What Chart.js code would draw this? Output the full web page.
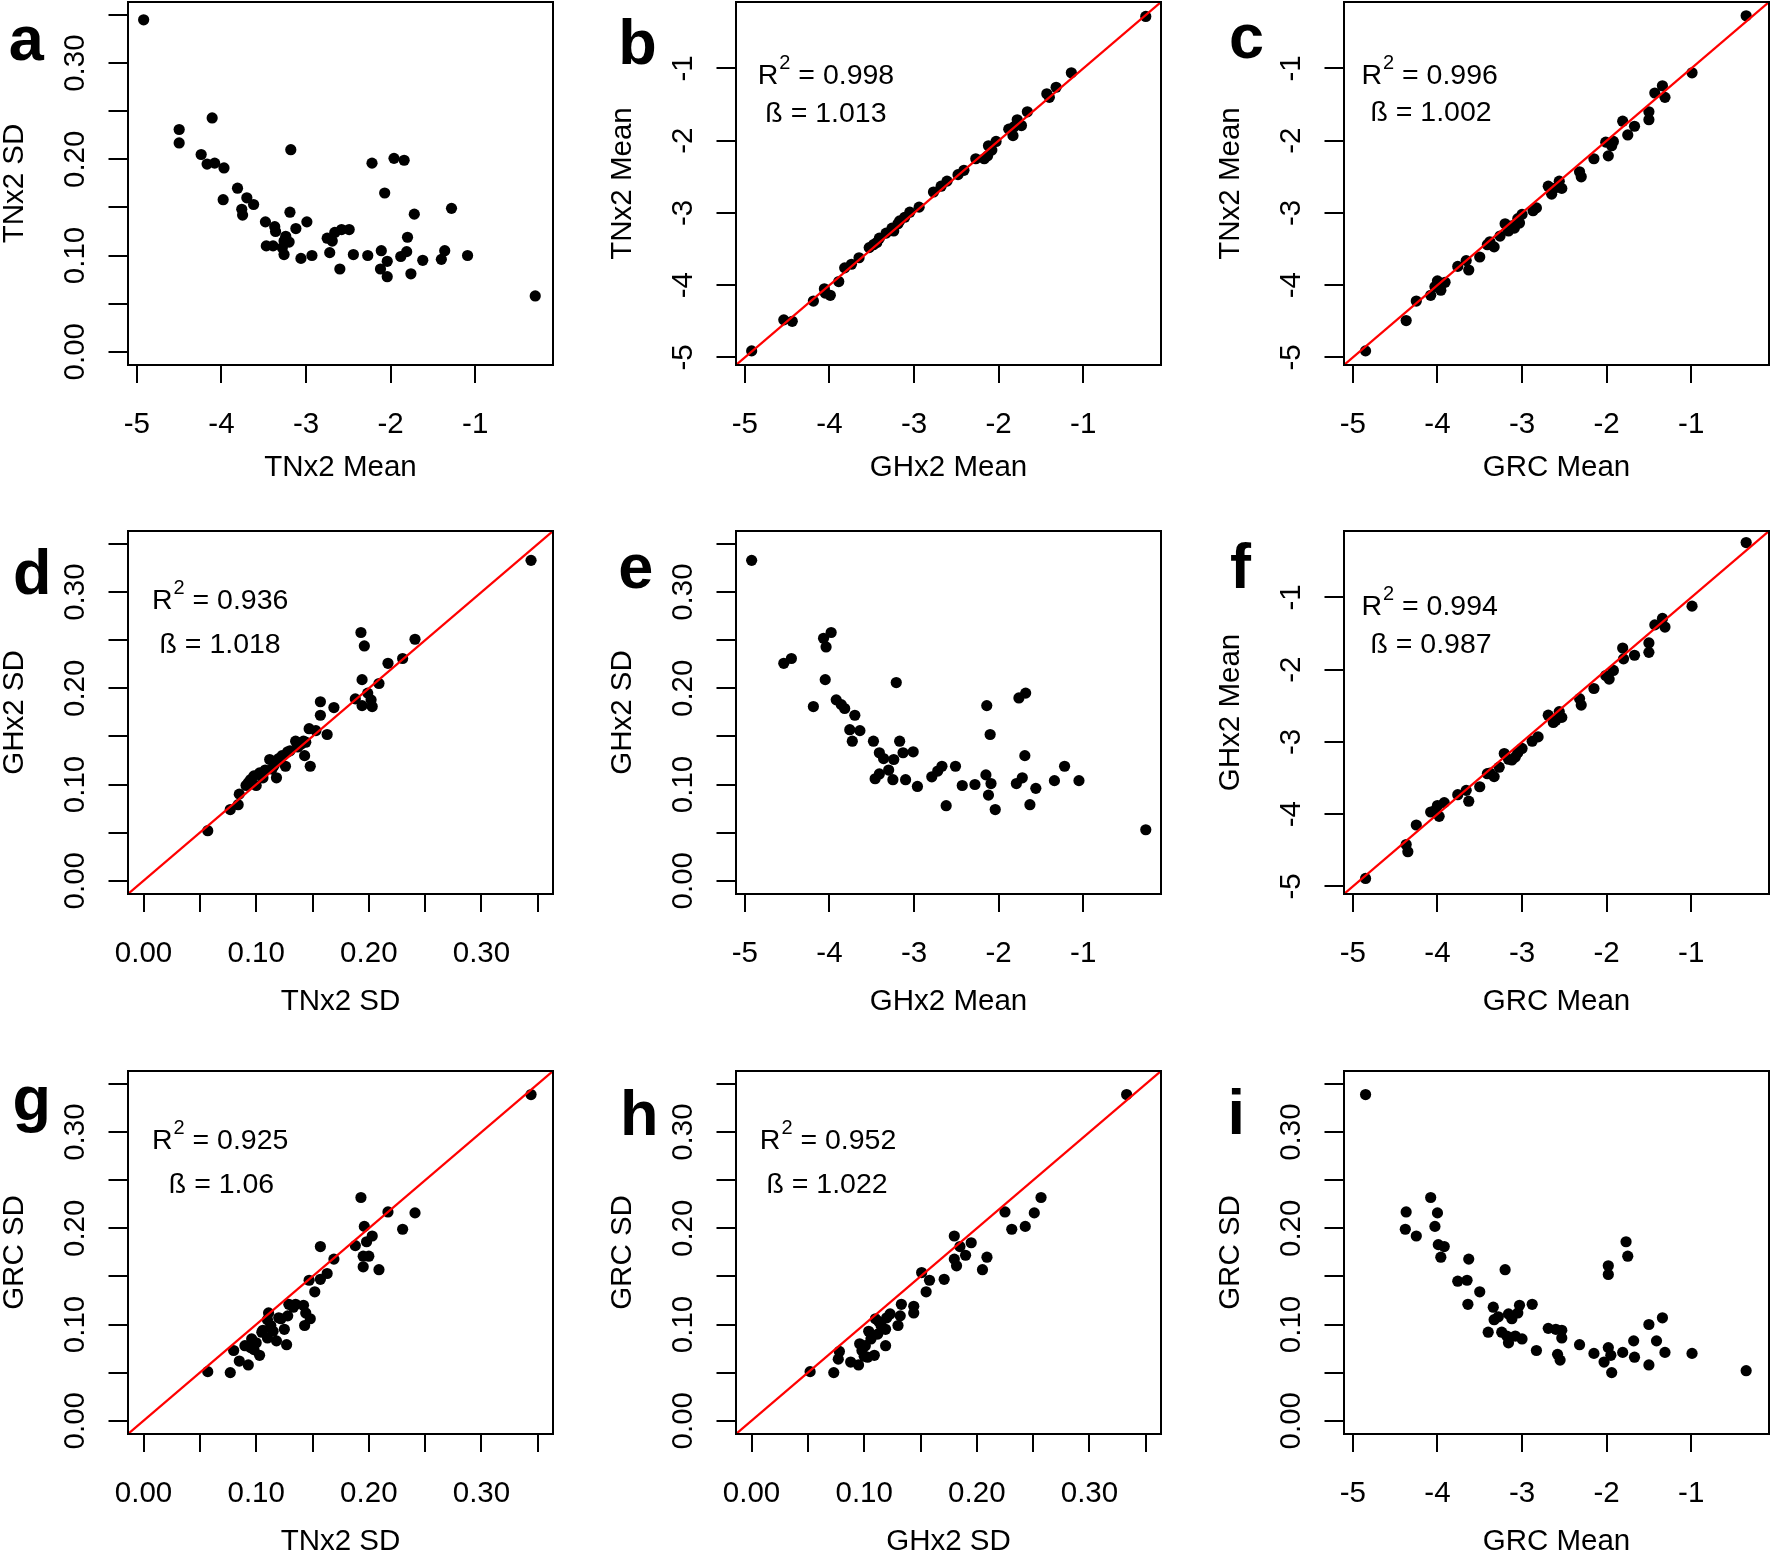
<!DOCTYPE html>
<html>
<head>
<meta charset="utf-8">
<title>TNx2 / GHx2 / GRC comparison</title>
<script src="https://cdn.jsdelivr.net/npm/chart.js@4.4.1/dist/chart.umd.min.js"></script>
<style>
  html, body { margin: 0; padding: 0; background: #fff; }
  body { width: 1770px; height: 1553px; overflow: hidden; position: relative; }
  #fig { position: absolute; left: 0; top: 0; width: 1770px; height: 1553px; }
  #fig canvas { position: absolute; }
</style>
</head>
<body>
<div id="fig"></div>
<script>
// ---- axis ticks ----
const meanTicks = [-5, -4, -3, -2, -1];
const meanTickLabels = ['-5', '-4', '-3', '-2', '-1'];
const sdTicks = [0, 0.05, 0.10, 0.15, 0.20, 0.25, 0.30, 0.35];
const sdTickLabels = ['0.00', '', '0.10', '', '0.20', '', '0.30', ''];
const meanRange = [-5.105, -0.08];
const sdRange = [-0.0138, 0.3635];

// ---- a: TNx2 mean vs TNx2 SD ----
const aX = [-4.92, -4.50, -4.50, -4.11, -4.24, -4.17, -4.08, -3.97, -3.98, -3.81, -3.70, -3.62, -3.76, -3.75, -3.48, -3.37, -3.36, -3.47, -3.39, -3.28, -3.24, -3.20, -3.26, -3.19, -3.18, -3.12, -2.99, -3.06, -2.93, -2.75, -2.66, -2.69, -2.72, -2.58, -2.49, -2.60, -2.44, -2.27, -2.22, -2.07, -2.11, -2.12, -2.04, -2.04, -1.96, -1.84, -1.88, -1.81, -1.80, -1.76, -1.72, -1.62, -1.40, -1.36, -1.28, -1.09, -0.29, -3.26];
const aY = [0.345, 0.231, 0.217, 0.243, 0.205, 0.195, 0.196, 0.191, 0.158, 0.170, 0.160, 0.153, 0.148, 0.142, 0.135, 0.130, 0.125, 0.110, 0.110, 0.108, 0.120, 0.114, 0.101, 0.145, 0.210, 0.128, 0.135, 0.097, 0.100, 0.118, 0.124, 0.115, 0.103, 0.127, 0.127, 0.086, 0.101, 0.100, 0.196, 0.165, 0.105, 0.086, 0.094, 0.078, 0.201, 0.199, 0.099, 0.104, 0.119, 0.081, 0.143, 0.095, 0.096, 0.105, 0.149, 0.100, 0.058, 0.115];

// ---- b: GHx2 mean vs TNx2 mean ----
const bX = [-4.92, -4.54, -4.44, -4.19, -4.06, -3.99, -3.89, -3.82, -3.74, -3.65, -3.48, -3.41, -3.33, -3.26, -3.19, -3.11, -3.05, -2.94, -2.77, -2.68, -2.61, -2.48, -2.41, -2.27, -2.13, -2.12, -2.03, -1.88, -1.83, -1.78, -1.73, -1.66, -1.43, -1.32, -1.14, -0.26, -3.53, -3.44, -3.24, -3.17, -2.08, -1.82, -1.40, -4.05, -2.17];
const bY = [-4.91, -4.48, -4.50, -4.22, -4.05, -4.14, -3.95, -3.76, -3.71, -3.62, -3.44, -3.35, -3.28, -3.21, -3.15, -3.06, -2.99, -2.92, -2.71, -2.63, -2.56, -2.47, -2.41, -2.25, -2.21, -2.07, -2.01, -1.84, -1.93, -1.71, -1.79, -1.60, -1.35, -1.26, -1.06, -0.28, -3.48, -3.41, -3.25, -3.11, -2.13, -1.81, -1.40, -4.11, -2.25];

// ---- c: GRC mean vs TNx2 mean ----
const cX = [-4.85, -4.37, -4.25, -4.08, -4.00, -3.96, -3.91, -3.76, -3.66, -3.63, -3.50, -3.41, -3.33, -3.26, -3.20, -3.16, -3.09, -3.03, -3.00, -2.87, -2.83, -2.69, -2.65, -2.56, -2.53, -2.32, -2.30, -2.15, -2.01, -1.98, -1.94, -1.92, -1.81, -1.75, -1.67, -1.50, -1.50, -1.43, -1.34, -1.31, -0.99, -0.35, -3.12, -3.05, -3.38, -4.03, -2.62];
const cY = [-4.91, -4.49, -4.22, -4.14, -3.94, -4.07, -3.96, -3.74, -3.66, -3.79, -3.61, -3.44, -3.47, -3.32, -3.15, -3.25, -3.21, -3.14, -3.02, -2.97, -2.93, -2.63, -2.74, -2.56, -2.66, -2.43, -2.50, -2.25, -2.02, -2.21, -2.07, -2.01, -1.73, -1.92, -1.80, -1.60, -1.71, -1.34, -1.24, -1.40, -1.06, -0.27, -3.18, -3.08, -3.40, -4.02, -2.66];

// ---- d: TNx2 SD vs GHx2 SD ----
const dX = [0.057, 0.077, 0.084, 0.085, 0.091, 0.095, 0.100, 0.103, 0.106, 0.112, 0.116, 0.118, 0.120, 0.126, 0.128, 0.135, 0.142, 0.143, 0.144, 0.148, 0.147, 0.153, 0.157, 0.157, 0.163, 0.169, 0.188, 0.193, 0.196, 0.194, 0.194, 0.199, 0.202, 0.203, 0.209, 0.217, 0.230, 0.241, 0.344, 0.093, 0.098, 0.108, 0.114, 0.123, 0.130, 0.137, 0.140];
const dY = [0.052, 0.074, 0.079, 0.090, 0.099, 0.105, 0.099, 0.112, 0.107, 0.126, 0.120, 0.107, 0.127, 0.119, 0.134, 0.145, 0.145, 0.130, 0.144, 0.119, 0.158, 0.156, 0.186, 0.172, 0.152, 0.180, 0.189, 0.258, 0.244, 0.209, 0.182, 0.195, 0.188, 0.181, 0.205, 0.226, 0.231, 0.251, 0.333, 0.102, 0.109, 0.115, 0.116, 0.130, 0.135, 0.139, 0.142];

// ---- e: GHx2 mean vs GHx2 SD ----
const eX = [-4.92, -4.54, -4.45, -4.07, -3.98, -4.04, -4.05, -4.19, -3.92, -3.86, -3.82, -3.70, -3.76, -3.64, -3.73, -3.48, -3.41, -3.36, -3.17, -3.13, -3.01, -3.24, -3.30, -3.25, -3.41, -3.46, -3.21, -3.10, -2.96, -2.79, -2.72, -2.67, -2.51, -2.62, -2.43, -2.28, -2.14, -2.10, -2.15, -2.09, -2.12, -2.04, -1.76, -1.68, -1.69, -1.79, -1.72, -1.63, -1.56, -1.34, -1.22, -1.05, -0.26];
const eY = [0.333, 0.226, 0.231, 0.252, 0.258, 0.243, 0.209, 0.181, 0.188, 0.183, 0.179, 0.172, 0.157, 0.156, 0.145, 0.145, 0.133, 0.127, 0.145, 0.133, 0.134, 0.126, 0.115, 0.105, 0.111, 0.106, 0.206, 0.105, 0.098, 0.108, 0.114, 0.119, 0.119, 0.078, 0.099, 0.100, 0.182, 0.152, 0.110, 0.101, 0.089, 0.074, 0.190, 0.195, 0.130, 0.101, 0.107, 0.079, 0.096, 0.104, 0.119, 0.104, 0.053];

// ---- f: GRC mean vs GHx2 mean ----
const fX = [-4.85, -4.37, -4.35, -4.25, -4.08, -4.00, -3.98, -3.92, -3.76, -3.66, -3.63, -3.50, -3.41, -3.33, -3.27, -3.21, -3.16, -3.08, -3.00, -2.88, -2.81, -2.69, -2.63, -2.56, -2.53, -2.32, -2.30, -2.15, -2.01, -1.97, -1.92, -1.81, -1.80, -1.67, -1.50, -1.50, -1.43, -1.34, -1.31, -0.99, -0.35, -3.12, -3.05, -3.38, -4.03, -2.60];
const fY = [-4.89, -4.42, -4.52, -4.15, -3.97, -3.88, -4.03, -3.84, -3.73, -3.67, -3.82, -3.62, -3.44, -3.48, -3.35, -3.16, -3.24, -3.21, -3.09, -2.99, -2.93, -2.63, -2.73, -2.58, -2.66, -2.40, -2.49, -2.26, -2.08, -2.13, -2.01, -1.70, -1.85, -1.80, -1.63, -1.76, -1.38, -1.29, -1.41, -1.12, -0.24, -3.25, -3.15, -3.43, -3.95, -2.70];

// ---- g: TNx2 SD vs GRC SD ----
const gX = [0.057, 0.077, 0.080, 0.085, 0.093, 0.095, 0.096, 0.100, 0.103, 0.105, 0.110, 0.111, 0.110, 0.115, 0.118, 0.120, 0.125, 0.127, 0.128, 0.129, 0.135, 0.142, 0.143, 0.144, 0.148, 0.152, 0.147, 0.157, 0.163, 0.157, 0.169, 0.188, 0.193, 0.196, 0.198, 0.203, 0.195, 0.200, 0.195, 0.209, 0.217, 0.230, 0.241, 0.344, 0.090, 0.098, 0.106, 0.113, 0.122, 0.133];
const gY = [0.051, 0.050, 0.073, 0.062, 0.058, 0.076, 0.085, 0.081, 0.068, 0.092, 0.105, 0.112, 0.086, 0.093, 0.083, 0.107, 0.095, 0.079, 0.109, 0.121, 0.121, 0.120, 0.099, 0.112, 0.106, 0.134, 0.146, 0.147, 0.153, 0.181, 0.168, 0.182, 0.232, 0.202, 0.186, 0.192, 0.171, 0.171, 0.160, 0.157, 0.217, 0.199, 0.216, 0.339, 0.078, 0.074, 0.094, 0.099, 0.106, 0.118];

// ---- h: GHx2 SD vs GRC SD ----
const hX = [0.052, 0.073, 0.077, 0.078, 0.088, 0.095, 0.096, 0.098, 0.100, 0.103, 0.104, 0.106, 0.109, 0.110, 0.112, 0.115, 0.119, 0.119, 0.123, 0.130, 0.132, 0.133, 0.144, 0.144, 0.151, 0.155, 0.158, 0.171, 0.180, 0.180, 0.182, 0.185, 0.190, 0.195, 0.205, 0.209, 0.225, 0.231, 0.243, 0.251, 0.257, 0.333, 0.101, 0.107, 0.113, 0.120];
const hY = [0.051, 0.050, 0.064, 0.072, 0.061, 0.058, 0.080, 0.073, 0.067, 0.066, 0.093, 0.085, 0.068, 0.106, 0.090, 0.099, 0.095, 0.078, 0.111, 0.099, 0.109, 0.121, 0.119, 0.112, 0.154, 0.134, 0.146, 0.147, 0.192, 0.168, 0.161, 0.181, 0.172, 0.185, 0.157, 0.170, 0.217, 0.199, 0.202, 0.216, 0.232, 0.339, 0.078, 0.088, 0.103, 0.107];

// ---- i: GRC mean vs GRC SD ----
const iX = [-4.85, -4.37, -4.38, -4.25, -4.08, -4.00, -4.03, -3.99, -3.92, -3.96, -3.63, -3.76, -3.65, -3.64, -3.50, -3.20, -3.34, -3.33, -3.28, -3.40, -3.16, -3.12, -3.03, -3.05, -2.88, -3.24, -3.18, -3.16, -3.08, -3.00, -2.83, -2.69, -2.60, -2.53, -2.53, -2.58, -2.55, -2.32, -2.15, -2.03, -1.98, -1.95, -1.94, -1.98, -1.98, -1.77, -1.75, -1.81, -1.68, -1.67, -1.50, -1.50, -1.41, -1.34, -1.31, -0.99, -0.35];
const iY = [0.339, 0.217, 0.199, 0.192, 0.232, 0.216, 0.202, 0.183, 0.181, 0.170, 0.168, 0.145, 0.146, 0.121, 0.134, 0.157, 0.118, 0.105, 0.108, 0.092, 0.111, 0.106, 0.120, 0.112, 0.121, 0.092, 0.088, 0.081, 0.088, 0.085, 0.073, 0.096, 0.095, 0.094, 0.086, 0.069, 0.063, 0.079, 0.070, 0.061, 0.076, 0.068, 0.050, 0.161, 0.152, 0.186, 0.171, 0.071, 0.083, 0.066, 0.100, 0.058, 0.083, 0.107, 0.071, 0.070, 0.052];

// ---- layout ----
const FONT = '"Liberation Sans", Arial, Helvetica, sans-serif';
const TICK_SIZE = 29.5;
const AXIS_W = 131, PAD_TOP = 12, PAD_RIGHT = 20, XAXIS_H = 128;
const CANVAS_W = 576, CANVAS_H = 503;
const colBoxLeft = [128.3, 736.4, 1344.3];
const rowBoxTop = [1.7, 531, 1071];
const rowTitleGap = [102.7, 108, 108];

Chart.defaults.font.family = FONT;
Chart.defaults.color = '#000';

const kinds = {
    mean: { range: meanRange, ticks: meanTicks, labels: meanTickLabels, yPad: 19.9 },
    sd:   { range: sdRange,   ticks: sdTicks,   labels: sdTickLabels,   yPad: 4.3 }
};

const panels = [
    { letter: 'a', row: 0, col: 0, xk: 'mean', yk: 'sd',   xTitle: 'TNx2 Mean', yTitle: 'TNx2 SD',   x: aX, y: aY, lp: [-119.3, 58] },
    { letter: 'b', row: 0, col: 1, xk: 'mean', yk: 'mean', xTitle: 'GHx2 Mean', yTitle: 'TNx2 Mean', x: bX, y: bY, lp: [-117.7, 62],
      r2: '0.998', beta: '1.013', sp: [21.7, 82.3, 29.3, 119.7] },
    { letter: 'c', row: 0, col: 2, xk: 'mean', yk: 'mean', xTitle: 'GRC Mean',  yTitle: 'TNx2 Mean', x: cX, y: cY, lp: [-115, 56],
      r2: '0.996', beta: '1.002', sp: [17.4, 81.6, 26.4, 119] },
    { letter: 'd', row: 1, col: 0, xk: 'sd',   yk: 'sd',   xTitle: 'TNx2 SD',   yTitle: 'GHx2 SD',   x: dX, y: dY, lp: [-115, 63],
      r2: '0.936', beta: '1.018', sp: [23.9, 78.3, 31.5, 121.7] },
    { letter: 'e', row: 1, col: 1, xk: 'mean', yk: 'sd',   xTitle: 'GHx2 Mean', yTitle: 'GHx2 SD',   x: eX, y: eY, lp: [-117.7, 57.3] },
    { letter: 'f', row: 1, col: 2, xk: 'mean', yk: 'mean', xTitle: 'GRC Mean',  yTitle: 'GHx2 Mean', x: fX, y: fY, lp: [-114, 57.3],
      r2: '0.994', beta: '0.987', sp: [17.4, 84, 26.4, 122.3] },
    { letter: 'g', row: 2, col: 0, xk: 'sd',   yk: 'sd',   xTitle: 'TNx2 SD',   yTitle: 'GRC SD',    x: gX, y: gY, lp: [-115.6, 49],
      r2: '0.925', beta: '1.06', sp: [23.9, 78.3, 40.8, 121.7] },
    { letter: 'h', row: 2, col: 1, xk: 'sd',   yk: 'sd',   xTitle: 'GHx2 SD',   yTitle: 'GRC SD',    x: hX, y: hY, lp: [-116.1, 64],
      r2: '0.952', beta: '1.022', sp: [23.8, 78.3, 30.4, 121.7] },
    { letter: 'i', row: 2, col: 2, xk: 'mean', yk: 'sd',   xTitle: 'GRC Mean',  yTitle: 'GRC SD',    x: iX, y: iY, lp: [-116.6, 63] }
];

// box, panel letter and R2 / beta text
const panelDecor = {
    id: 'panelDecor',
    afterDraw(chart, args, opts) {
        const { ctx, chartArea: ca } = chart;
        ctx.save();
        ctx.strokeStyle = '#000';
        ctx.lineWidth = 2;
        ctx.strokeRect(ca.left, ca.top, ca.right - ca.left, ca.bottom - ca.top);

        ctx.fillStyle = '#000';
        ctx.textAlign = 'left';
        ctx.textBaseline = 'alphabetic';
        ctx.font = 'bold 63px ' + FONT;
        ctx.fillText(opts.letter, ca.left + opts.lp[0], ca.top + opts.lp[1]);

        if (opts.r2) {
            const [rx, ry, bx, by] = opts.sp;
            ctx.font = '28.5px ' + FONT;
            ctx.fillText('R', ca.left + rx, ca.top + ry);
            const wR = ctx.measureText('R').width;
            ctx.font = '20px ' + FONT;
            ctx.fillText('2', ca.left + rx + wR + 1, ca.top + ry - 15);
            const w2 = ctx.measureText('2').width;
            ctx.font = '28.5px ' + FONT;
            ctx.fillText(' = ' + opts.r2, ca.left + rx + wR + 1 + w2, ca.top + ry);
            ctx.fillText('ß = ' + opts.beta, ca.left + bx, ca.top + by);
        }
        ctx.restore();
    }
};

function axisOptions(kindName, isX, title, titlePadBottom) {
    const k = kinds[kindName];
    return {
        type: 'linear',
        min: k.range[0],
        max: k.range[1],
        afterBuildTicks: s => { s.ticks = k.ticks.map(v => ({ value: v })); },
        afterFit: s => {
            if (isX) s.height = XAXIS_H; else s.width = AXIS_W;
            s.paddingLeft = 0; s.paddingRight = 0; s.paddingTop = 0; s.paddingBottom = 0;
        },
        grid: {
            drawOnChartArea: false,
            drawTicks: true,
            tickLength: isX ? 18 : 19.5,
            tickWidth: 2,
            tickColor: '#000',
            color: '#000',
            lineWidth: 2
        },
        border: { display: false },
        ticks: {
            autoSkip: false,
            color: '#000',
            font: { family: FONT, size: TICK_SIZE },
            padding: isX ? 23.7 : k.yPad,
            minRotation: isX ? 0 : 90,
            maxRotation: isX ? 0 : 90,
            crossAlign: isX ? 'near' : 'center',
            callback: (v, i) => k.labels[i]
        },
        title: {
            display: true,
            text: title,
            color: '#000',
            font: { family: FONT, size: TICK_SIZE },
            padding: isX ? { top: 0, bottom: titlePadBottom } : { top: 0, bottom: 0 }
        }
    };
}

const fig = document.getElementById('fig');

panels.forEach(p => {
    const canvas = document.createElement('canvas');
    canvas.width = CANVAS_W;
    canvas.height = CANVAS_H;
    canvas.style.width = CANVAS_W + 'px';
    canvas.style.height = CANVAS_H + 'px';
    canvas.style.left = (colBoxLeft[p.col] - AXIS_W) + 'px';
    canvas.style.top = (rowBoxTop[p.row] - PAD_TOP) + 'px';
    fig.appendChild(canvas);

    const datasets = [];
    if (p.r2) {
        const r = kinds[p.xk].range;
        datasets.push({
            data: [{ x: r[0], y: r[0] }, { x: r[1], y: r[1] }],
            showLine: true,
            borderColor: '#ff0000',
            borderWidth: 2.2,
            pointRadius: 0
        });
    }
    datasets.push({
        data: p.x.map((v, i) => ({ x: v, y: p.y[i] })),
        pointRadius: 5.6,
        pointHoverRadius: 5.6,
        pointBackgroundColor: '#000',
        pointBorderWidth: 0,
        clip: false
    });

    new Chart(canvas.getContext('2d'), {
        type: 'scatter',
        data: { datasets: datasets },
        options: {
            responsive: false,
            animation: false,
            events: [],
            layout: { padding: { top: PAD_TOP, right: PAD_RIGHT, left: 0, bottom: 0 } },
            plugins: {
                legend: { display: false },
                tooltip: { enabled: false },
                panelDecor: { letter: p.letter, lp: p.lp, r2: p.r2, beta: p.beta, sp: p.sp }
            },
            scales: {
                x: axisOptions(p.xk, true, p.xTitle, XAXIS_H - rowTitleGap[p.row] - TICK_SIZE * 0.6),
                y: axisOptions(p.yk, false, p.yTitle, 0)
            }
        },
        plugins: [panelDecor]
    });
});
</script>
</body>
</html>
